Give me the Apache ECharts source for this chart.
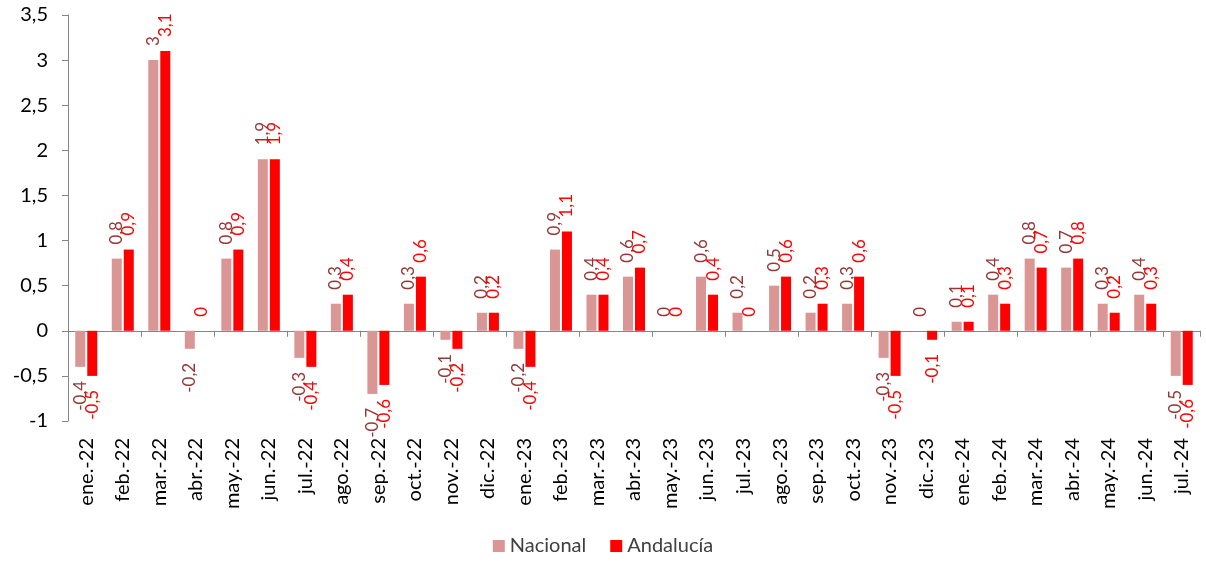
<!DOCTYPE html>
<html>
<head>
<meta charset="utf-8">
<script src="https://cdn.jsdelivr.net/npm/echarts@6/dist/echarts.min.js"></script>
<style>
  html, body { margin: 0; padding: 0; background: #fff; }
  #chart { width: 1206px; height: 564px; }
</style>
</head>
<body>
<div id="chart"></div>
<script>
var meses = ['ene.-22', 'feb.-22', 'mar.-22', 'abr.-22', 'may.-22', 'jun.-22', 'jul.-22', 'ago.-22',
  'sep.-22', 'oct.-22', 'nov.-22', 'dic.-22', 'ene.-23', 'feb.-23', 'mar.-23', 'abr.-23', 'may.-23',
  'jun.-23', 'jul.-23', 'ago.-23', 'sep.-23', 'oct.-23', 'nov.-23', 'dic.-23', 'ene.-24', 'feb.-24',
  'mar.-24', 'abr.-24', 'may.-24', 'jun.-24', 'jul.-24'];

var nacional = [-0.4, 0.8, 3, -0.2, 0.8, 1.9, -0.3, 0.3, -0.7, 0.3, -0.1, 0.2, -0.2, 0.9, 0.4, 0.6,
  0, 0.6, 0.2, 0.5, 0.2, 0.3, -0.3, 0, 0.1, 0.4, 0.8, 0.7, 0.3, 0.4, -0.5];

var andalucia = [-0.5, 0.9, 3.1, 0, 0.9, 1.9, -0.4, 0.4, -0.6, 0.6, -0.2, 0.2, -0.4, 1.1, 0.4, 0.7,
  0, 0.4, 0, 0.6, 0.3, 0.6, -0.5, -0.1, 0.1, 0.3, 0.7, 0.8, 0.2, 0.3, -0.6];

var FONT = 'Lato';

function coma(v) {
  return String(v).replace('.', ',');
}

// each bar gets its label above (>= 0) or below (< 0)
function conEtiquetas(valores, color) {
  return valores.map(function (v) {
    var arriba = v >= 0;
    return {
      value: v,
      label: {
        show: true,
        position: arriba ? 'top' : 'bottom',
        rotate: 90,
        align: arriba ? 'left' : 'right',
        verticalAlign: 'middle',
        distance: 14,
        color: color,
        fontSize: 17,
        fontFamily: FONT,
        formatter: function (p) { return coma(p.value); }
      }
    };
  });
}

var chart = echarts.init(document.getElementById('chart'));

var option = {
  animation: false,
  textStyle: { fontFamily: FONT },
  color: ['#D99694', '#FF0000'],
  legend: {
    data: ['Nacional', 'Andalucía'],
    bottom: 3,
    left: 'center',
    itemWidth: 12,
    itemHeight: 12,
    itemGap: 24,
    icon: 'rect',
    textStyle: { fontSize: 20, color: '#404040', fontFamily: FONT }
  },
  grid: {
    left: 68,
    right: 6,
    top: 15,
    bottom: 143
  },
  xAxis: [{
    type: 'category',
    data: meses,
    position: 'bottom',
    axisLine: { show: false, onZero: false },
    axisTick: { show: false },
    axisLabel: {
      rotate: 90,
      interval: 0,
      margin: 17,
      fontSize: 20,
      color: '#000',
      fontFamily: FONT
    }
  }, {
    type: 'category',
    data: meses,
    position: 'bottom',
    axisLine: { show: true, onZero: true, lineStyle: { color: '#868686' } },
    axisTick: { show: true, length: 6, inside: false, lineStyle: { color: '#868686' } },
    axisLabel: { show: false }
  }],
  yAxis: {
    type: 'value',
    min: -1,
    max: 3.5,
    interval: 0.5,
    axisLine: { show: true, lineStyle: { color: '#868686' } },
    axisTick: { show: true, length: 6, lineStyle: { color: '#868686' } },
    splitLine: { show: false },
    axisLabel: {
      fontSize: 20,
      color: '#000',
      margin: 20,
      fontFamily: FONT,
      formatter: function (v) { return coma(v); }
    }
  },
  series: [{
    name: 'Nacional',
    type: 'bar',
    xAxisIndex: 0,
    barWidth: 10,
    barGap: '20%',
    data: conEtiquetas(nacional, '#953735')
  }, {
    name: 'Andalucía',
    type: 'bar',
    xAxisIndex: 0,
    barWidth: 10,
    data: conEtiquetas(andalucia, '#FF0000')
  }]
};

chart.setOption(option);
</script>
</body>
</html>
